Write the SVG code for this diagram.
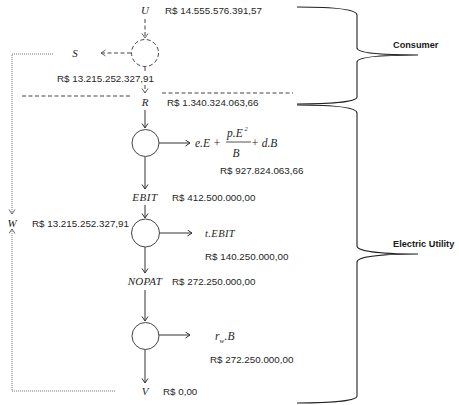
<svg xmlns="http://www.w3.org/2000/svg" width="459" height="405" viewBox="0 0 459 405">
<defs>
<marker id="ah" markerWidth="8" markerHeight="8" refX="5" refY="3.5" orient="auto" markerUnits="userSpaceOnUse">
<path d="M0.5,0.5 L5,3.5 L0.5,6.5" fill="none" stroke="#333" stroke-width="1"/>
</marker>
<marker id="ahd" markerWidth="8" markerHeight="8" refX="5" refY="3.5" orient="auto" markerUnits="userSpaceOnUse">
<path d="M0.5,0.5 L5,3.5 L0.5,6.5" fill="none" stroke="#555" stroke-width="0.9"/>
</marker>
</defs>
<style>
.num{font-family:"Liberation Sans",Arial,sans-serif;font-size:9.8px;fill:#262626}
.var{font-family:"Liberation Serif","Times New Roman",serif;font-style:italic;font-size:11px;fill:#262626}
.fx{font-family:"Liberation Serif","Times New Roman",serif;font-style:italic;font-size:11.5px;fill:#262626}
.lbl{font-family:"Liberation Sans",Arial,sans-serif;font-weight:bold;font-size:9.2px;fill:#1a1a1a}
.ln{stroke:#333;stroke-width:1;fill:none}
.dash{stroke:#444;stroke-width:1;fill:none;stroke-dasharray:4,2.5}
.dot{stroke:#777;stroke-width:1;fill:none;stroke-dasharray:1,1}
.node{fill:#fff;stroke:#444;stroke-width:1}
.brace{stroke:#222;stroke-width:1.1;fill:none}
</style>

<g id="connectors">
<line class="dash" x1="145" y1="19" x2="145" y2="38" marker-end="url(#ahd)"/>
<line class="dash" x1="131" y1="53" x2="101" y2="53" marker-end="url(#ahd)"/>
<line class="dash" x1="145" y1="67" x2="145" y2="73"/>
<line class="dash" x1="145" y1="85" x2="145" y2="93" marker-end="url(#ahd)"/>
<line class="dash" x1="22" y1="96" x2="130" y2="96"/>
<line class="dash" x1="162" y1="93" x2="293" y2="93"/>
<line class="ln" x1="145" y1="110" x2="145" y2="128" marker-end="url(#ah)"/>
<line class="ln" x1="159" y1="143" x2="190" y2="143" marker-end="url(#ah)"/>
<line class="ln" x1="145" y1="157" x2="145" y2="189" marker-end="url(#ah)"/>
<line class="ln" x1="145" y1="205" x2="145" y2="218" marker-end="url(#ah)"/>
<line class="ln" x1="159" y1="233" x2="192" y2="233" marker-end="url(#ah)"/>
<line class="ln" x1="145" y1="247" x2="145" y2="273" marker-end="url(#ah)"/>
<line class="ln" x1="145" y1="290" x2="145" y2="321" marker-end="url(#ah)"/>
<line class="ln" x1="159" y1="335" x2="190" y2="335" marker-end="url(#ah)"/>
<line class="ln" x1="145" y1="349" x2="145" y2="383" marker-end="url(#ah)"/>
<polyline class="dot" points="53,54 12,54 12,214" marker-end="url(#ahd)"/>
<polyline class="dot" points="115,391 12,391 12,229" marker-end="url(#ahd)"/>
</g>

<g id="node-U"><text class="var" x="145" y="14" text-anchor="middle">U</text>
<text class="num" x="165" y="14">R$ 14.555.576.391,57</text></g>

<g id="node-split"><circle cx="145" cy="53" r="13.5" fill="none" stroke="#444" stroke-dasharray="4,2.5"/></g>

<g id="node-S"><text class="var" x="75" y="57" text-anchor="middle">S</text>
<text class="num" x="57" y="82">R$ 13.215.252.327,91</text></g>

<g id="node-R"><text class="var" x="145" y="106" text-anchor="middle">R</text>
<text class="num" x="167" y="106">R$ 1.340.324.063,66</text></g>

<g id="node-c1"><circle class="node" cx="145.5" cy="143" r="13.5"/></g>

<g id="node-cost">
<text class="fx" x="195" y="147">e.E +</text>
<text class="fx" x="227" y="137">p.E</text>
<text class="fx" x="244.5" y="131" style="font-size:6.5px">2</text>
<line x1="226" y1="142" x2="251" y2="142" stroke="#262626" stroke-width="0.8"/>
<text class="fx" x="236" y="157" text-anchor="middle">B</text>
<text class="fx" x="251" y="147">+ d.B</text>
<text class="num" x="220" y="174">R$ 927.824.063,66</text></g>

<g id="node-EBIT"><text class="var" x="145" y="201" text-anchor="middle" letter-spacing="0.6">EBIT</text>
<text class="num" x="172" y="201">R$ 412.500.000,00</text></g>

<g id="node-c2"><circle class="node" cx="145.5" cy="233" r="14"/></g>

<g id="node-W"><text class="var" x="12" y="227" text-anchor="middle">W</text>
<text class="num" x="32" y="227">R$ 13.215.252.327,91</text></g>

<g id="node-tax"><text class="fx" x="205" y="237" letter-spacing="0.4" style="font-size:10.5px">t.EBIT</text>
<text class="num" x="205" y="260">R$ 140.250.000,00</text></g>

<g id="node-NOPAT"><text class="var" x="145" y="285" text-anchor="middle" letter-spacing="0.3">NOPAT</text>
<text class="num" x="172" y="285">R$ 272.250.000,00</text></g>

<g id="node-c3"><circle class="node" cx="145.5" cy="336" r="13.5"/></g>

<g id="node-rwB"><text class="fx" x="215" y="340">r</text>
<text class="fx" x="219.5" y="343" style="font-size:7px">w</text>
<text class="fx" x="224.5" y="340">.B</text>
<text class="num" x="210" y="363">R$ 272.250.000,00</text></g>

<g id="node-V"><text class="var" x="145" y="395" text-anchor="middle">V</text>
<text class="num" x="163" y="395">R$ 0,00</text></g>

<g id="brace-consumer">
<path class="brace" d="M297,7 C330,7 357,9 357,15 L357,48 C357,52 372,55 418,55 C372,55 357,58 357,62 L357,97 C357,102 330,104 297,104"/>
<text class="lbl" x="393" y="48">Consumer</text></g>

<g id="brace-utility">
<path class="brace" d="M297,105 C330,105 357,107 357,113 L357,246 C357,250 372,254 418,254 C372,254 357,258 357,262 L357,396 C357,401 330,403 297,403"/>
<text class="lbl" x="393" y="247">Electric Utility</text></g>
</svg>
